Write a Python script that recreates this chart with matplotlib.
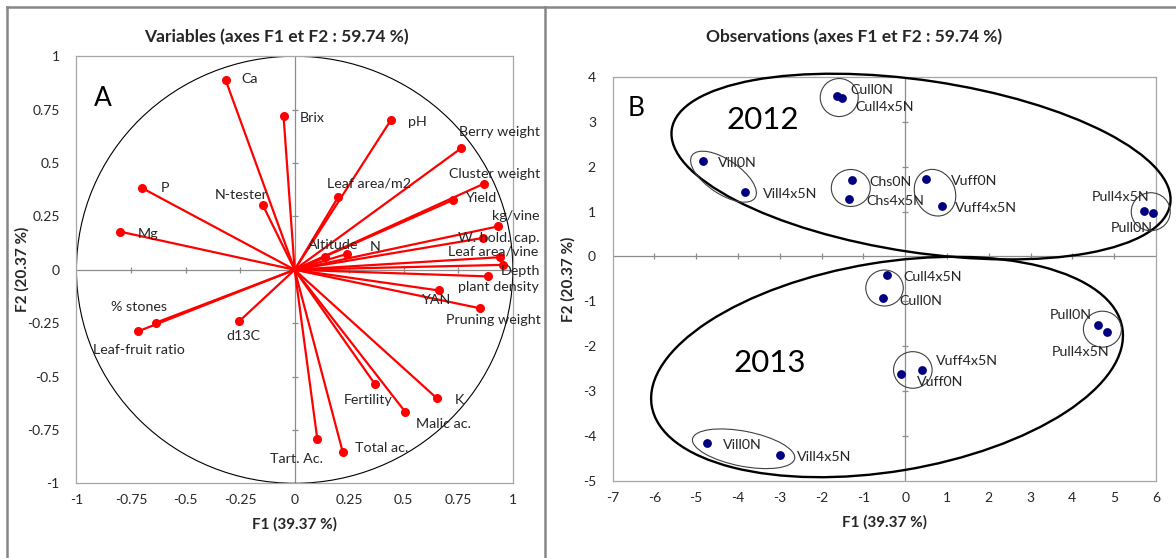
import matplotlib
matplotlib.use("Agg")
import matplotlib.pyplot as plt
import numpy as np
from matplotlib.patches import Ellipse, Circle
from matplotlib.transforms import ScaledTranslation
from matplotlib.lines import Line2D

plt.rcParams['font.family'] = ['Lato', 'DejaVu Sans']

# --- panel A: variable loadings on F1/F2
var_names = ["Ca", "Brix", "pH", "Berry weight", "Cluster weight", "Yield", "kg/vine",
             "W. hold. cap.", "Leaf area/vine", "Depth", "plant density", "YAN",
             "Pruning weight", "Leaf area/m2", "N-tester", "P", "Mg", "Altitude", "N",
             "% stones", "Leaf-fruit ratio", "d13C", "Fertility", "K", "Malic ac.",
             "Total ac.", "Tart. Ac."]
var_f1 = [-0.316, -0.051, 0.441, 0.763, 0.867, 0.724, 0.931, 0.863, 0.943, 0.956, 0.884,
          0.661, 0.848, 0.199, -0.145, -0.698, -0.802, 0.139, 0.242, -0.634, -0.719,
          -0.255, 0.367, 0.652, 0.508, 0.220, 0.104]
var_f2 = [0.888, 0.721, 0.701, 0.569, 0.403, 0.326, 0.203, 0.149, 0.059, 0.023, -0.031,
          -0.097, -0.180, 0.340, 0.301, 0.382, 0.179, 0.058, 0.075, -0.247, -0.289,
          -0.242, -0.534, -0.602, -0.667, -0.852, -0.794]
# label offsets in pixels (dx right, dy down) from the point
var_offsets = [(16, -1), (16, 2), (17, 1.5), (-2, -16.6), (-35, -10), (13, -2), (-6, -10),
               (-25, 0), (-52, -6), (-2.5, 6), (-30, 11), (-17, 10), (-33.5, 12),
               (-10.6, -14), (-48.5, -10.5), (18, 0), (18, 2.5), (-17, -12), (22, -7),
               (-45, -16), (-44.7, 18.4), (-13, 14.4), (-31, 16), (17.6, 1.6),
               (11, 11.7), (12, -3.4), (-47, 19.6)]

# --- panel B: observation scores
obs_names = ["Cull0N", "Cull4x5N", "Vill0N", "Vill4x5N", "Chs0N", "Chs4x5N", "Vuff0N",
             "Vuff4x5N", "Pull4x5N", "Pull0N", "Cull4x5N", "Cull0N", "Pull0N", "Pull4x5N",
             "Vuff0N", "Vuff4x5N", "Vill0N", "Vill4x5N"]
obs_f1 = [-1.64, -1.51, -4.84, -3.82, -1.27, -1.34, 0.51, 0.89, 5.71, 5.94,
          -0.44, -0.54, 4.61, 4.82, -0.10, 0.40, -4.75, -2.99]
obs_f2 = [3.58, 3.52, 2.13, 1.43, 1.70, 1.29, 1.73, 1.13, 1.01, 0.96,
          -0.41, -0.93, -1.53, -1.67, -2.61, -2.53, -4.15, -4.41]
obs_offsets = [(13.4, -5.5), (13.7, 8.5), (15, 2), (17, 2), (17, 1.7), (17, 2.5), (25, 2.3),
               (12.4, 2), (-52, -14), (-43, 14.4), (16.4, 1.8), (16.6, 2.4), (-47.8, -10.3),
               (-54.5, 20), (16.3, 8.5), (14.3, -9.2), (16.3, 1.9), (16.4, 1.9)]

# group ellipses: centre (data), width/height in px, angle in deg, big or not
groups = [(0.38, 2.00, 504, 172, -8.5, True),
          (-0.433, -2.458, 477, 209, 9.4, True),
          (-1.577, 3.536, 38, 38, 0, False),
          (-4.346, 1.775, 76, 34, -34, False),
          (-1.30, 1.524, 39, 37, 0, False),
          (0.715, 1.419, 48, 40, -65, False),
          (5.877, 0.996, 39, 38, 0, False),
          (-0.493, -0.701, 37.5, 36, 0, False),
          (4.72, -1.617, 38, 36, 0, False),
          (0.184, -2.524, 38.6, 36.6, 0, False),
          (-3.865, -4.277, 104, 35, -11, False)]

title = "axes F1 et F2 : 59.74 %"
xlab = "F1 (39.37 %)"
ylab = "F2 (20.37 %)"

txt_col = "#262626"
fig = plt.figure(figsize=(11.76, 5.58), dpi=100)

axA = fig.add_axes([0.0650, 0.1339, 0.3711, 0.7653])
axB = fig.add_axes([0.5209, 0.1375, 0.4620, 0.7251])


def style_axes(ax, xt, yt, lim_x, lim_y, tick_fmt, ylabpad):
    ax.set_xlim(*lim_x)
    ax.set_ylim(*lim_y)
    ax.set_xticks(xt)
    ax.set_yticks(yt)
    ax.set_xticklabels([tick_fmt(v) for v in xt])
    ax.set_yticklabels([tick_fmt(v) for v in yt])
    ax.tick_params(length=0, labelsize=10, labelcolor=txt_col)
    ax.tick_params(axis='y', pad=12)
    ax.tick_params(axis='x', pad=8)
    for s in ax.spines.values():
        s.set_color("#a6a6a6")
        s.set_linewidth(0.9)
    ax.axhline(0, color="#8c8c8c", lw=0.9, zorder=1)
    ax.axvline(0, color="#8c8c8c", lw=0.9, zorder=1)
    inner_x = [v for v in xt if lim_x[0] < v < lim_x[1] and v != 0]
    inner_y = [v for v in yt if lim_y[0] < v < lim_y[1] and v != 0]
    ax.plot(inner_x, np.zeros(len(inner_x)), ls='none', marker='|', ms=5,
            mew=0.9, color="#8c8c8c", zorder=1)
    ax.plot(np.zeros(len(inner_y)), inner_y, ls='none', marker='_', ms=5,
            mew=0.9, color="#8c8c8c", zorder=1)
    ax.set_xlabel(xlab, fontsize=11, fontweight='bold', color=txt_col, labelpad=8)
    ax.set_ylabel(ylab, fontsize=11, fontweight='bold', color=txt_col, labelpad=ylabpad)


def fmtA(v):
    s = ("%.2f" % v).rstrip('0').rstrip('.')
    return s


style_axes(axA, np.arange(-1, 1.01, 0.25), np.arange(-1, 1.01, 0.25),
           (-1, 1), (-1, 1), fmtA, -2)
style_axes(axB, np.arange(-7, 7), np.arange(-5, 5), (-7, 6), (-5, 4),
           lambda v: "%d" % v, 5)

fig.text(0.2347, 0.9337, "Variables (" + title + ")", fontsize=12.5, fontweight='bold',
         color=txt_col, ha='center', va='center')
fig.text(0.7259, 0.9337, "Observations (" + title + ")", fontsize=12.5, fontweight='bold',
         color=txt_col, ha='center', va='center')

# correlation circle
axA.add_patch(Circle((0, 0), 1, fill=False, ec='black', lw=0.8, zorder=2))
for x, y in zip(var_f1, var_f2):
    axA.plot([0, x], [0, y], color='#ff0000', lw=1.6, zorder=3, solid_capstyle='round')
axA.plot(var_f1, var_f2, 'o', color='#ff0000', ms=5.5, zorder=4)
for name, x, y, (dx, dy) in zip(var_names, var_f1, var_f2, var_offsets):
    axA.annotate(name, (x, y), xytext=(dx, -dy), textcoords='offset pixels',
                 ha='left', va='center', fontsize=10.3, color=txt_col, zorder=5,
                 annotation_clip=False)
axA.text(-0.88, 0.80, "A", fontsize=19, ha='center', va='center', color='black')

# observations
axB.plot(obs_f1, obs_f2, 'o', color='#000080', ms=5.3, zorder=4, clip_on=False)
for name, x, y, (dx, dy) in zip(obs_names, obs_f1, obs_f2, obs_offsets):
    axB.annotate(name, (x, y), xytext=(dx, -dy), textcoords='offset pixels',
                 ha='left', va='center', fontsize=10.3, color=txt_col, zorder=5,
                 annotation_clip=False)
for cx, cy, w, h, ang, big in groups:
    tr = fig.dpi_scale_trans + ScaledTranslation(cx, cy, axB.transData)
    e = Ellipse((0, 0), w / 100.0, h / 100.0, angle=ang, transform=tr, fill=False,
                ec='black' if big else '#404040', lw=1.7 if big else 0.8,
                clip_on=False, zorder=3)
    axB.add_artist(e)
axB.text(-3.40, 3.04, "2012", fontsize=22.5, ha='center', va='center', color='black')
axB.text(-3.23, -2.37, "2013", fontsize=22.5, ha='center', va='center', color='black')
axB.text(-6.43, 3.30, "B", fontsize=19, ha='center', va='center', color='black')

# outer frame of the two panels
fc = "#878787"
fig.add_artist(Line2D([0.006, 1.0], [0.9875, 0.9875], transform=fig.transFigure,
                      color=fc, lw=1.8))
fig.add_artist(Line2D([0.006, 0.006], [0.0, 0.9875], transform=fig.transFigure,
                      color=fc, lw=1.8))
fig.add_artist(Line2D([0.4634, 0.4634], [0.0, 0.9875], transform=fig.transFigure,
                      color=fc, lw=1.8))

fig.savefig("out.png", dpi=100)
